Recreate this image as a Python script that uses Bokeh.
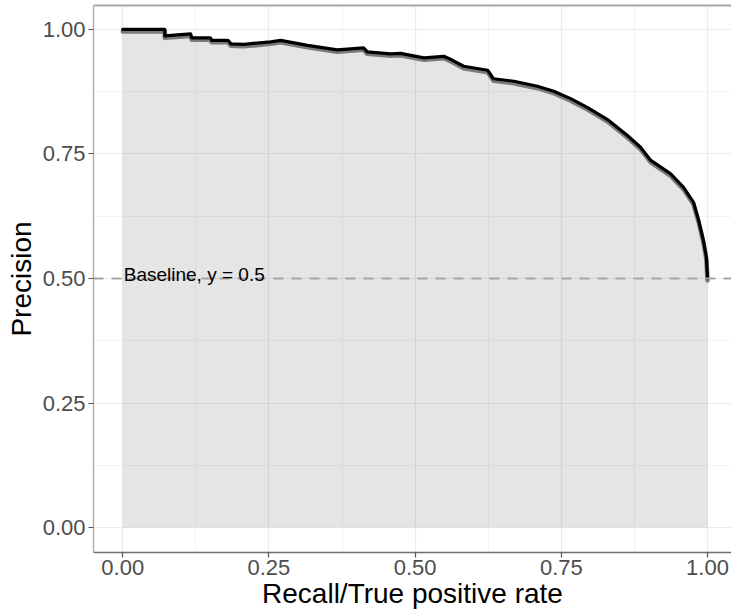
from bokeh.plotting import figure
from bokeh.models import (Range1d, FixedTicker, PrintfTickFormatter, Span, Label,
                          LinearAxis, ColumnDataSource)
from bokeh.embed import file_html
from bokeh.resources import INLINE
import numpy as np

# Precision-recall curve points
recall = [0.000, 0.072, 0.072, 0.116, 0.118, 0.150, 0.152, 0.180, 0.185, 0.207,
          0.253, 0.270, 0.316, 0.367, 0.412, 0.418, 0.458, 0.475, 0.515, 0.549,
          0.564, 0.583, 0.624, 0.634, 0.669, 0.709, 0.737, 0.766, 0.795, 0.829,
          0.863, 0.885, 0.903, 0.937, 0.959, 0.976, 0.985, 0.993, 0.998, 1.000]
precision = [1.000, 1.000, 0.987, 0.991, 0.983, 0.983, 0.978, 0.978, 0.971, 0.970,
             0.975, 0.978, 0.968, 0.959, 0.963, 0.955, 0.951, 0.952, 0.943, 0.946,
             0.938, 0.926, 0.918, 0.901, 0.896, 0.886, 0.876, 0.861, 0.843, 0.819,
             0.787, 0.764, 0.737, 0.710, 0.683, 0.653, 0.616, 0.576, 0.543, 0.500]
baseline = 0.5
tick_values = [0.0, 0.25, 0.5, 0.75, 1.0]
minor_values = [0.125, 0.375, 0.625, 0.875]

FONT = "Liberation Sans"
shadow_dy = 0.004

src = ColumnDataSource(dict(
    recall=recall,
    precision=precision,
    zero=[0.0] * len(recall),
    shadow=list(np.array(precision) - shadow_dy),
))

p = figure(width=731, height=613,
           x_range=Range1d(-0.05, 1.041), y_range=Range1d(-0.05, 1.048),
           output_backend="svg", toolbar_location=None,
           min_border_left=93, min_border_right=0, min_border_top=5,
           min_border_bottom=61, outline_line_color=None,
           background_fill_color="white", border_fill_color="white")

# area under the curve
p.varea(x="recall", y1="zero", y2="precision", source=src,
        fill_color="black", fill_alpha=0.1)

# baseline
p.add_layout(Span(location=baseline, dimension="width", line_color="#A6A6A6",
                  line_width=2, line_dash="10 8"))

# curve with a soft shadow
p.line(x="recall", y="shadow", source=src, line_color="#6E6E6E", line_width=4.5,
       line_alpha=0.9, line_join="round", line_cap="round")
p.line(x="recall", y="precision", source=src, line_color="black", line_width=3.2,
       line_join="round", line_cap="round")

p.add_layout(Label(x=0, y=baseline, x_offset=1, y_offset=4, text="Baseline, y = 0.5",
                   text_font=FONT, text_font_size="19px", text_color="black",
                   text_baseline="alphabetic", text_align="left"))

# axes
for ax in (p.xaxis[0], p.yaxis[0]):
    ax.ticker = FixedTicker(ticks=tick_values, minor_ticks=minor_values)
    ax.formatter = PrintfTickFormatter(format="%.2f")
    ax.major_label_text_font = FONT
    ax.major_label_text_font_size = "22px"
    ax.major_label_text_color = "#4D4D4D"
    ax.major_tick_line_color = "#555555"
    ax.major_tick_line_width = 1.2
    ax.major_tick_out = 5
    ax.major_tick_in = 0
    ax.minor_tick_line_color = None
    ax.axis_label_text_font = FONT
    ax.axis_label_text_font_size = "28px"
    ax.axis_label_text_font_style = "normal"
    ax.axis_label_text_color = "black"
    ax.axis_line_width = 1.5

p.xaxis.axis_label = "Recall/True positive rate"
p.yaxis.axis_label = "Precision"
p.xaxis.axis_line_color = "#6E6E6E"
p.yaxis.axis_line_color = "#B3B3B3"
p.xaxis.major_label_standoff = 2
p.yaxis.major_label_standoff = 3
p.xaxis.axis_label_standoff = 0
p.yaxis.axis_label_standoff = 3

# top border
top = LinearAxis(ticker=FixedTicker(ticks=[]), axis_line_color="#A8A8A8",
                 axis_line_width=2, major_tick_line_color=None,
                 minor_tick_line_color=None, major_label_text_font_size="0px")
p.add_layout(top, "above")

# grid
for g in (p.xgrid[0], p.ygrid[0]):
    g.grid_line_color = "#EBEBEB"
    g.grid_line_width = 1.2
    g.minor_grid_line_color = "#EBEBEB"
    g.minor_grid_line_width = 0.6

open("out.html", "w").write(file_html(p, INLINE))
